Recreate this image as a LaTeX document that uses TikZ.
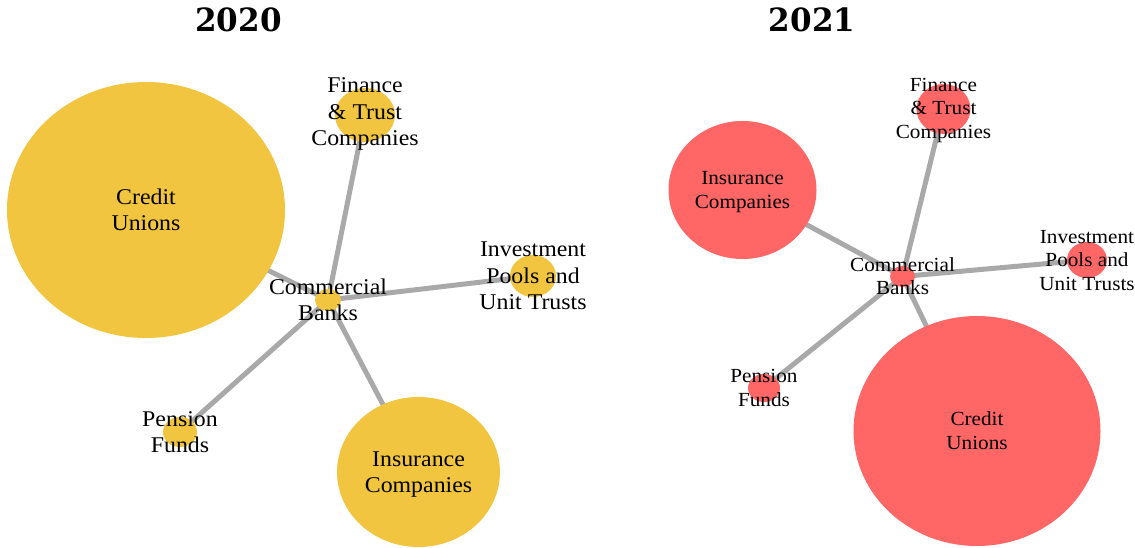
\documentclass[tikz,border=0pt]{standalone}
\usepackage{fontspec}
\usetikzlibrary{shapes.geometric,backgrounds}
\newfontfamily\labfont[FakeStretch=1.06]{Liberation Serif}
\newfontfamily\titlefont[FakeStretch=0.97]{DejaVu Serif}
\definecolor{yel}{RGB}{241,197,64}
\definecolor{red21}{RGB}{255,102,102}
\definecolor{edgegray}{RGB}{169,169,169}
\tikzset{
  blob/.style={ellipse,inner sep=0pt,draw=none},
  y20/.style={blob,fill=yel},
  r21/.style={blob,fill=red21},
  labA/.style={align=center,inner sep=0pt,yshift=-2pt,font=\labfont\fontsize{22.5}{26.5}\selectfont},
  labB/.style={align=center,inner sep=0pt,yshift=-2pt,font=\labfont\fontsize{20}{23.5}\selectfont},
  ttl/.style={anchor=base,inner sep=0pt,font=\titlefont\bfseries\fontsize{32}{36}\selectfont},
  edge/.style={draw=edgegray,line width=5pt}
}
\begin{document}
\begin{tikzpicture}[x=1pt,y=-1pt]
\useasboundingbox (0,0) rectangle (1135,548);
% titles
\node[ttl] (t20) at (238.5,32) {2020};
\node[ttl] (t21) at (812,32) {2021};
% 2020 nodes
\node[y20,minimum width=278pt,minimum height=256pt] (cu20) at (146,210) {};
\node[y20,minimum width=60pt,minimum height=54pt] (fin20) at (365,115) {};
\node[y20,minimum width=46pt,minimum height=42pt] (inv20) at (533,276) {};
\node[y20,minimum width=26pt,minimum height=22pt] (cb20) at (328,300) {};
\node[y20,minimum width=34pt,minimum height=30pt] (pen20) at (180,432) {};
\node[y20,minimum width=163pt,minimum height=150pt] (ins20) at (418.5,472) {};
% 2021 nodes
\node[r21,minimum width=148pt,minimum height=138pt] (ins21) at (742.5,190) {};
\node[r21,minimum width=54pt,minimum height=50pt] (fin21) at (943.5,109) {};
\node[r21,minimum width=25pt,minimum height=21pt] (cb21) at (902.5,276.5) {};
\node[r21,minimum width=40pt,minimum height=36pt] (inv21) at (1087,260) {};
\node[r21,minimum width=32pt,minimum height=28pt] (pen21) at (764,388) {};
\node[r21,minimum width=247pt,minimum height=230pt] (cu21) at (977,431) {};
% edges
\begin{pgfonlayer}{background}
\path[edge] (cb20.center) -- (cu20.center);
\path[edge] (cb20.center) -- (fin20.center);
\path[edge] (cb20.center) -- (inv20.center);
\path[edge] (cb20.center) -- (pen20.center);
\path[edge] (cb20.center) -- (ins20.center);
\path[edge] (cb21.center) -- (ins21.center);
\path[edge] (cb21.center) -- (fin21.center);
\path[edge] (cb21.center) -- (inv21.center);
\path[edge] (cb21.center) -- (pen21.center);
\path[edge] (cb21.center) -- (cu21.center);
\end{pgfonlayer}
% 2020 labels
\node[labA] (cu20t) at (cu20) {\strut Credit\\\strut Unions};
\node[labA,yshift=3pt] (fin20t) at (fin20) {\strut Finance\\\strut \& Trust\\\strut Companies};
\node[labA] (inv20t) at (inv20) {\strut Investment\\\strut Pools and\\\strut Unit Trusts};
\node[labA] (cb20t) at (cb20) {\strut Commercial\\\strut Banks};
\node[labA] (pen20t) at (pen20) {\strut Pension\\\strut Funds};
\node[labA] (ins20t) at (ins20) {\strut Insurance\\\strut Companies};
% 2021 labels
\node[labB] (ins21t) at (ins21) {\strut Insurance\\\strut Companies};
\node[labB,yshift=1pt] (fin21t) at (fin21) {\strut Finance\\\strut \& Trust\\\strut Companies};
\node[labB] (cb21t) at (cb21) {\strut Commercial\\\strut Banks};
\node[labB] (inv21t) at (inv21) {\strut Investment\\\strut Pools and\\\strut Unit Trusts};
\node[labB] (pen21t) at (pen21) {\strut Pension\\\strut Funds};
\node[labB] (cu21t) at (cu21) {\strut Credit\\\strut Unions};
\end{tikzpicture}
\end{document}
